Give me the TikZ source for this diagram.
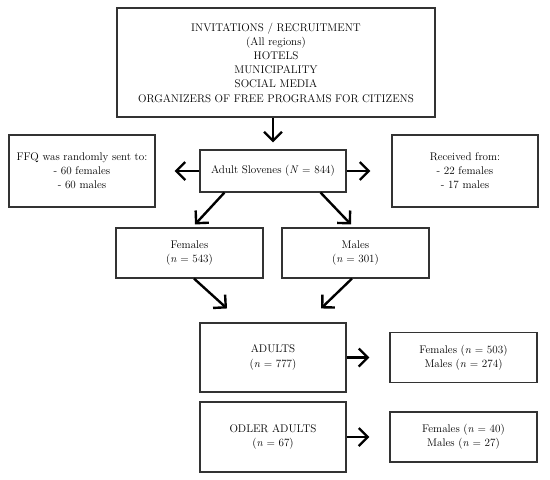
\documentclass[tikz,border=0pt]{standalone}
\usetikzlibrary{arrows.meta,calc}
\begin{document}
\begin{tikzpicture}[x=1pt,y=-1pt,
 box/.style={draw=black!80, line width=1.1pt, align=center, inner sep=0pt, font=\fontsize{11.1}{14.2}\selectfont},
 arr/.style={line width=2.4pt, -{Straight Barb[length=9pt,width=18pt,line width=2.4pt]}}]
\useasboundingbox (0,0) rectangle (550,480);
\node[box, minimum width=318pt, minimum height=109pt] (top) at (276,62.5) {INVITATIONS / RECRUITMENT\\(All regions)\\HOTELS\\MUNICIPALITY\\SOCIAL MEDIA\\ORGANIZERS OF FREE PROGRAMS FOR CITIZENS};
\node[box, minimum width=146pt, minimum height=42pt] (adult) at (273,171) {Adult Slovenes (\textit{N} = 844)};
\node[box, minimum width=146pt, minimum height=72pt] (left) at (82,171) {FFQ was randomly sent to:\\- 60 females\\- 60 males};
\node[box, minimum width=146pt, minimum height=72pt] (right) at (465,171) {Received from:\\- 22 females\\- 17 males};
\node[box, minimum width=147pt, minimum height=50pt] (fem) at (189.5,253) {Females\\(\textit{n} = 543)};
\node[box, minimum width=147pt, minimum height=50pt] (males) at (355.5,253) {Males\\(\textit{n} = 301)};
\node[box, minimum width=146pt, minimum height=69pt] (adults) at (273,357.5) {ADULTS\\(\textit{n} = 777)};
\node[box, minimum width=146pt, minimum height=70pt] (odler) at (273,437) {ODLER ADULTS\\(\textit{n} = 67)};
\node[box, minimum width=147pt, minimum height=50pt] (ra) at (463.5,357.5) {Females (\textit{n} = 503)\\Males (\textit{n} = 274)};
\node[box, minimum width=147pt, minimum height=50pt] (ro) at (463.5,437) {Females (\textit{n} = 40)\\Males (\textit{n} = 27)};
\draw[arr] (top.south -| adult.north) -- ($(adult.north)+(0,-7)$);
\draw[arr] (adult.west) -- ($(left.east)+(19,0)$);
\draw[arr] (adult.east) -- ($(right.west)+(-21,0)$);
\draw[arr] ($(adult.south west)+(25,0)$) -- ($(fem.north)+(5.5,-3)$);
\draw[arr] ($(adult.south east)+(-26,0)$) -- ($(males.north)+(-4.5,-3)$);
\draw[arr] ($(fem.south)+(4.5,0)$) -- ($(adults.north)+(-46,-14)$);
\draw[arr] ($(males.south)+(-3.5,0)$) -- ($(adults.north)+(48,-14)$);
\draw[arr] (adults.east) -- ($(ra.west)+(-20,0)$);
\draw[arr] (odler.east) -- ($(ro.west)+(-20,0)$);
\end{tikzpicture}
\end{document}
